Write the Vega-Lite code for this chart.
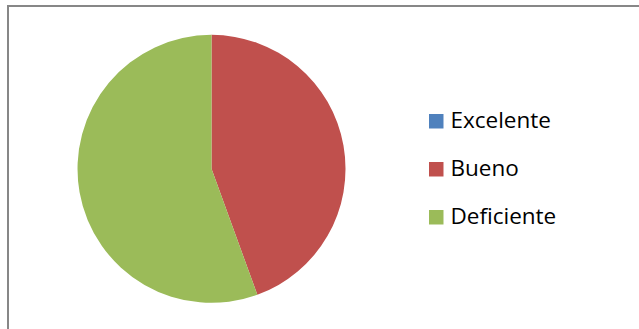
{
  "$schema": "https://vega.github.io/schema/vega-lite/v6.json",
  "autosize": {"type": "none"},
  "width": 640,
  "height": 340,
  "padding": {"left": 8, "top": 6, "right": 0, "bottom": 0},
  "background": "white",
  "config": {"view": {"stroke": null}},
  "layer": [
    {
      "data": {"values": [{"marco": 1}]},
      "mark": {"type": "rect", "fill": null, "stroke": "#878787", "strokeWidth": 2},
      "encoding": {}
    },
    {
      "data": {"values": [
        {"categoria": "Excelente", "valor": 0},
        {"categoria": "Bueno", "valor": 4},
        {"categoria": "Deficiente", "valor": 5}
      ]},
      "mark": {"type": "arc", "radius": 134, "x": {"expr": "width*0.318"}, "y": {"expr": "height*0.479"}, "stroke": null},
      "encoding": {
        "theta": {"field": "valor", "type": "quantitative", "stack": true},
        "color": {
          "field": "categoria",
          "type": "nominal",
          "scale": {"domain": ["Excelente", "Bueno", "Deficiente"], "range": ["#4F81BD", "#C0504D", "#9BBB59"]},
          "legend": {
            "title": null,
            "orient": "none",
            "legendX": 417,
            "legendY": 104,
            "symbolType": "square",
            "symbolSize": 210,
            "symbolStrokeWidth": 0,
            "labelFont": "Open Sans",
            "labelFontSize": 22.5,
            "labelColor": "#000000",
            "labelOffset": 3,
            "rowPadding": 25
          }
        }
      }
    }
  ]
}
